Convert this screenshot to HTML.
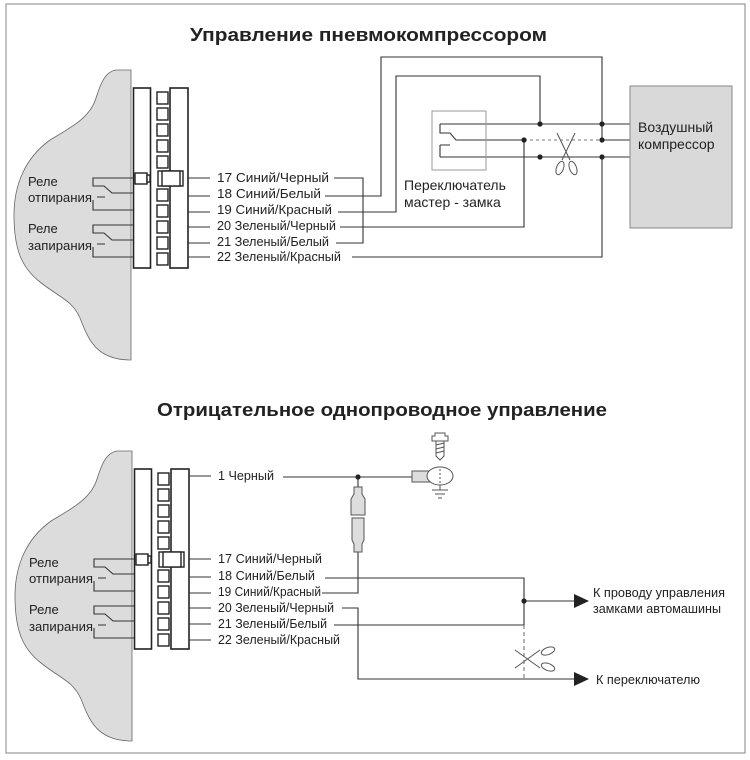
<!DOCTYPE html>
<html><head><meta charset="utf-8"><style>
html,body{margin:0;padding:0;background:#fff}
svg{display:block}
text{font-family:"Liberation Sans",sans-serif;fill:#222}
.l{font-size:13px}
</style></head><body>
<svg width="750" height="760" viewBox="0 0 750 760" xmlns="http://www.w3.org/2000/svg">
<rect x="6" y="4" width="739" height="749" fill="none" stroke="#999" stroke-width="1.2"/>

<defs>
<g id="conn">
 <path d="M131,70 L116,70 C104,72 100,86 96,98 C90,118 70,128 50,140 C25,158 14,185 14,215 C14,250 22,268 40,282 C60,298 72,300 80,318 C88,338 95,360 131,360 Z" fill="#dcdcdc" stroke="#666" stroke-width="0.8"/>
 <rect x="133.5" y="88" width="17" height="180" fill="#fff" stroke="#222" stroke-width="1.6"/>
 <rect x="170" y="88" width="18" height="180" fill="#fff" stroke="#222" stroke-width="1.6"/>
 <g fill="#fff" stroke="#222" stroke-width="1.4">
  <rect x="157" y="92" width="11" height="12"/><rect x="157" y="108" width="11" height="12"/>
  <rect x="157" y="124" width="11" height="12"/><rect x="157" y="140" width="11" height="12"/>
  <rect x="157" y="156" width="11" height="12"/>
  <rect x="157" y="189" width="11" height="12"/><rect x="157" y="205" width="11" height="12"/>
  <rect x="157" y="221" width="11" height="12"/><rect x="157" y="237" width="11" height="12"/>
  <rect x="157" y="253" width="11" height="12"/>
  <rect x="158" y="171" width="25" height="15"/>
  <rect x="162" y="171" width="18" height="15"/>
  <rect x="135" y="173" width="12" height="11"/>
  <rect x="147" y="175" width="3" height="7"/>
 </g>
 <g fill="none" stroke="#333" stroke-width="1.1">
  <path d="M133,178 H93 V186 H104 L112,193 H133"/>
  <path d="M97,197 H105 M93,200 V210 H133"/>
  <path d="M133,225 H93 V233 H104 L112,240 H133"/>
  <path d="M97,244 H105 M93,247 V257 H133"/>
 </g>
 <text x="28" y="186" class="l">Реле</text>
 <text x="28" y="202" class="l" textLength="64" lengthAdjust="spacingAndGlyphs">отпирания</text>
 <text x="28" y="233" class="l">Реле</text>
 <text x="28" y="250" class="l" textLength="64" lengthAdjust="spacingAndGlyphs">запирания</text>
</g>
</defs>

<!-- Top section -->
<text x="190" y="41" font-size="18" font-weight="bold" textLength="357" lengthAdjust="spacingAndGlyphs">Управление пневмокомпрессором</text>
<use href="#conn"/>
<g stroke="#333" stroke-width="1.1" fill="none">
 <path d="M188,178 H210 M188,196 H210 M188,212 H210 M188,227 H210 M188,243 H210 M188,257 H210"/>
 <path d="M334,178 H363 V243 H336"/>
 <path d="M325,196 H381 V57 H602 V140"/>
 <path d="M338,212 H396 V76 H540 V124"/>
 <path d="M340,227 H524 V140"/>
 <path d="M352,257 H602 V157"/>
 <path d="M440,124 H630 M466,140 H524 M602,140 H630 M440,157 H630"/>
 <path d="M440,124 V133 H450 L456,140 H466 M440,145 H450 M440,145 V157"/>
 <path d="M524,140 H602" stroke-dasharray="3,3" stroke="#777"/>
</g>
<rect x="432" y="111" width="54" height="59" fill="none" stroke="#999" stroke-width="1"/>
<g fill="#222"><circle cx="602" cy="124" r="2.6"/><circle cx="524" cy="140" r="2.6"/><circle cx="602" cy="140" r="2.6"/><circle cx="540" cy="124" r="2.6"/><circle cx="540" cy="157" r="2.6"/><circle cx="602" cy="157" r="2.6"/></g>
<g fill="none" stroke="#555" stroke-width="1">
 <path d="M557,133 L570,160 M575,133 L562,160"/>
 <ellipse cx="560" cy="168" rx="3.5" ry="7" transform="rotate(20 560 168)"/>
 <ellipse cx="573" cy="168" rx="3.5" ry="7" transform="rotate(-20 573 168)"/>
</g>
<rect x="630" y="86" width="102" height="142" fill="#d9d9d9" stroke="#888" stroke-width="1"/>
<text x="638" y="132" font-size="14">Воздушный</text>
<text x="638" y="149" font-size="14">компрессор</text>
<text x="404" y="190" font-size="14">Переключатель</text>
<text x="404" y="207" font-size="14">мастер - замка</text>
<g class="l">
<text x="217" y="182" textLength="112" lengthAdjust="spacingAndGlyphs">17 Синий/Черный</text>
<text x="217" y="198" textLength="104" lengthAdjust="spacingAndGlyphs">18 Синий/Белый</text>
<text x="217" y="214" textLength="115" lengthAdjust="spacingAndGlyphs">19 Синий/Красный</text>
<text x="217" y="230" textLength="119" lengthAdjust="spacingAndGlyphs">20 Зеленый/Черный</text>
<text x="217" y="246" textLength="112" lengthAdjust="spacingAndGlyphs">21 Зеленый/Белый</text>
<text x="217" y="261" textLength="124" lengthAdjust="spacingAndGlyphs">22 Зеленый/Красный</text>
</g>

<!-- Bottom section -->
<text x="157" y="416" font-size="18" font-weight="bold" textLength="450" lengthAdjust="spacingAndGlyphs">Отрицательное однопроводное управление</text>
<g transform="translate(1,381)">
 <use href="#conn"/>
 <rect x="133.5" y="88" width="17" height="180" fill="none" stroke="#222" stroke-width="0"/>
</g>
<g stroke="#333" stroke-width="1.1" fill="none">
 <path d="M189,476 H211 M189,559 H211 M189,577 H211 M189,593 H211 M189,608 H211 M189,624 H211 M189,640 H211"/>
 <path d="M283,477 H412"/>
 <path d="M358,477 V488 M358,552 V593 H322"/>
 <path d="M325,578 H524 V625 H334"/>
 <path d="M524,601 H576"/>
 <path d="M342,608 H358 V679 H576"/>
 <path d="M524,625 V679" stroke-dasharray="4,3" stroke="#777"/>
</g>
<g fill="#222"><circle cx="358" cy="477" r="2.6"/><circle cx="524" cy="601" r="2.6"/>
 <path d="M574,594 L589,601 L574,608 Z"/><path d="M574,672 L589,679 L574,686 Z"/></g>
<g fill="#ddd" stroke="#555" stroke-width="1">
 <path d="M354,487 H362 V494 L365,499 V515 H351 V499 L354,494 Z"/>
 <path d="M352,518 H364 V540 L362,544 V552 H354 V544 L352,540 Z"/>
 <rect x="412" y="471" width="18" height="11"/>
</g>
<g fill="none" stroke="#555" stroke-width="1">
 <ellipse cx="440" cy="476" rx="13" ry="9" fill="#fff"/>
 <path d="M440,469 V483" stroke-dasharray="2,2"/>
 <path d="M435,433 H445 V436 H448 V441 H432 V436 H435 Z M436,441 V456 L440,460 L444,456 V441 M436,445 L444,443 M436,449 L444,447 M436,453 L444,451"/>
 <path d="M440,485 V490 M432,490 H448 M435,494 H445 M438,498 H442"/>
 <path d="M515,650 L540,668 M515,668 L540,650"/>
 <ellipse cx="548" cy="651" rx="7" ry="3.5" transform="rotate(-20 548 651)"/>
 <ellipse cx="548" cy="667" rx="7" ry="3.5" transform="rotate(20 548 667)"/>
</g>
<g class="l">
<text x="218" y="480" textLength="56" lengthAdjust="spacingAndGlyphs">1 Черный</text>
<text x="218" y="563" textLength="104" lengthAdjust="spacingAndGlyphs">17 Синий/Черный</text>
<text x="218" y="580" textLength="97" lengthAdjust="spacingAndGlyphs">18 Синий/Белый</text>
<text x="218" y="596" textLength="103" lengthAdjust="spacingAndGlyphs">19 Синий/Красный</text>
<text x="218" y="612" textLength="116" lengthAdjust="spacingAndGlyphs">20 Зеленый/Черный</text>
<text x="218" y="628" textLength="109" lengthAdjust="spacingAndGlyphs">21 Зеленый/Белый</text>
<text x="218" y="644" textLength="122" lengthAdjust="spacingAndGlyphs">22 Зеленый/Красный</text>
<text x="593" y="597" textLength="132" lengthAdjust="spacingAndGlyphs">К проводу управления</text>
<text x="593" y="613" textLength="128" lengthAdjust="spacingAndGlyphs">замками автомашины</text>
<text x="596" y="684" textLength="104" lengthAdjust="spacingAndGlyphs">К переключателю</text>
</g>
</svg>
</body></html>
